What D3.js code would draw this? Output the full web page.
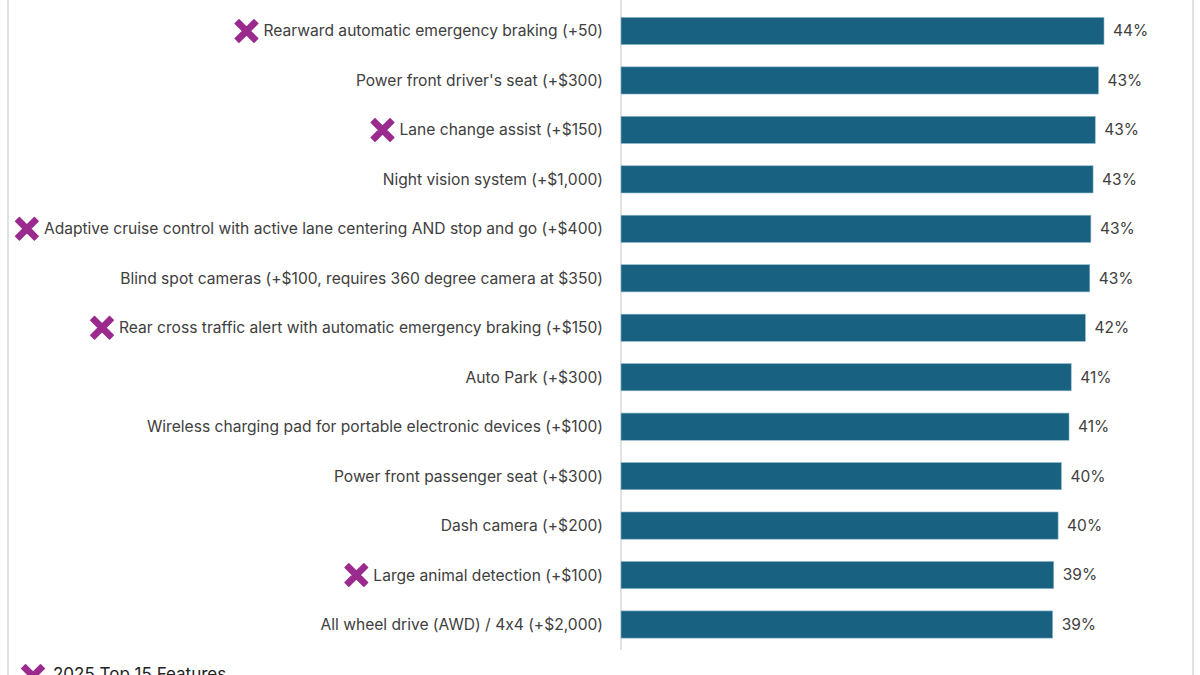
<!DOCTYPE html>
<html><head><meta charset="utf-8">
<script src="https://cdn.jsdelivr.net/npm/d3@7"></script>
<style>body{margin:0;background:#fff} text{font-feature-settings:"calt" 0}</style>
</head><body>
<svg id="chart" width="1200" height="675"></svg>
<script>
var features = [
  "Rearward automatic emergency braking (+50)",
  "Power front driver's seat (+$300)",
  "Lane change assist (+$150)",
  "Night vision system (+$1,000)",
  "Adaptive cruise control with active lane centering AND stop and go (+$400)",
  "Blind spot cameras (+$100, requires 360 degree camera at $350)",
  "Rear cross traffic alert with automatic emergency braking (+$150)",
  "Auto Park (+$300) ",
  "Wireless charging pad for portable electronic devices (+$100)",
  "Power front passenger seat (+$300)",
  "Dash camera (+$200)",
  "Large animal detection (+$100)",
  "All wheel drive (AWD) / 4x4 (+$2,000)"
]
var shares = [44.2, 43.7, 43.4, 43.2, 43.0, 42.9, 42.5, 41.2, 41.0, 40.3, 40.0, 39.6, 39.5]
var top15 = [true, false, true, false, true, false, true, false, false, false, false, true, false]
var labels = ["44%", "43%", "43%", "43%", "43%", "43%", "42%", "41%", "41%", "40%", "40%", "39%", "39%"]

var svg = d3.select("#chart")
var font = "Inter, 'Open Sans', sans-serif"
var x0 = 621

var x = d3.scaleLinear().domain([0, 44.2]).range([x0, 1104])
var y = d3.scaleBand().domain(features).range([6.5, 649]).paddingInner(0.45).paddingOuter(0.22)

// frame lines
svg.append("line").attr("x1", 8).attr("x2", 8).attr("y1", 0).attr("y2", 675).attr("stroke", "#d9d9d9").attr("stroke-width", 1.5)
svg.append("line").attr("x1", 1193).attr("x2", 1193).attr("y1", 0).attr("y2", 675).attr("stroke", "#d9d9d9").attr("stroke-width", 1.5)
svg.append("line").attr("x1", x0).attr("x2", x0).attr("y1", 0).attr("y2", 650).attr("stroke", "#d9d9d9").attr("stroke-width", 1.5)

svg.selectAll("rect.bar").data(features).enter().append("rect")
  .attr("class", "bar")
  .attr("x", x0)
  .attr("y", d => y(d))
  .attr("width", (d, i) => x(shares[i]) - x0)
  .attr("height", y.bandwidth())
  .attr("fill", "#186180")
  .attr("stroke", "#8fb8cf").attr("stroke-width", 0.6)

svg.selectAll("text.val").data(features).enter().append("text")
  .attr("x", (d, i) => x(shares[i]) + 9)
  .attr("y", d => y(d) + y.bandwidth() / 2)
  .attr("dy", "0.35em")
  .attr("font-family", font).attr("font-size", 15.5).attr("fill", "#404040")
  .text((d, i) => labels[i])

var lab = svg.selectAll("text.lab").data(features).enter().append("text")
  .attr("class", "lab")
  .attr("x", 603)
  .attr("y", d => y(d) + y.bandwidth() / 2)
  .attr("dy", "0.35em")
  .attr("text-anchor", "end")
  .attr("font-family", font).attr("font-size", 15.6).attr("fill", "#404040")
  .text(d => d)

function cross(cx, cy) {
  var p = "M-9,-6 L-6,-9 L0,-3 L6,-9 L9,-6 L3,0 L9,6 L6,9 L0,3 L-6,9 L-9,6 L-3,0 Z"
  svg.append("path").attr("d", p).attr("transform", "translate(" + cx + "," + cy + ") scale(1.25)")
    .attr("fill", "#9b2a8e").attr("stroke", "#9b2a8e").attr("stroke-width", 1.2).attr("stroke-linejoin", "round")
}

lab.each(function (d, i) {
  if (!top15[i]) return
  var w = this.getComputedTextLength()
  cross(603 - w - 17, y(d) + y.bandwidth() / 2)
})

// legend (at bottom edge)
cross(33, 676)
svg.append("text").attr("x", 53).attr("y", 680)
  .attr("font-family", font).attr("font-size", 17).attr("fill", "#222")
  .text("2025 Top 15 Features")
</script>
</body></html>
